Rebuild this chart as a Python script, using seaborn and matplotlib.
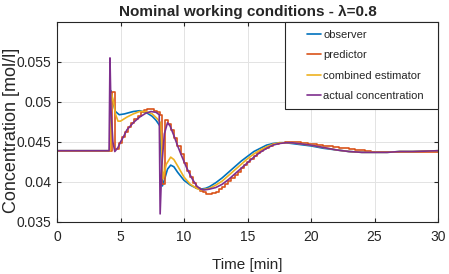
import matplotlib
matplotlib.use("Agg")
import matplotlib.pyplot as plt
from matplotlib.legend_handler import HandlerLine2D
from matplotlib.lines import Line2D
import seaborn as sns
import pandas as pd

# observer estimate (smooth)
obs_t = [0, 4.15, 4.25, 4.4, 4.6, 4.9, 5.3, 6.0, 6.5, 7.0, 7.5, 7.8, 8.1, 8.3, 8.5, 8.7,
         8.95, 9.2, 9.5, 10.0, 10.5, 11.0, 11.3, 11.7, 12.0, 12.5, 13.0, 13.5, 14.0, 14.5,
         15.0, 15.5, 16.0, 16.5, 17.0, 17.5, 18.0, 18.5, 19.0, 20.0, 21.0, 22.0, 23.0,
         24.0, 25.0, 26.0, 27.0, 28.0, 30.0]
obs_c = [0.0439, 0.0439, 0.0514, 0.0500, 0.0488, 0.0484, 0.0485, 0.0488, 0.0489, 0.0487,
         0.0482, 0.0477, 0.0470, 0.0395, 0.0405, 0.0416, 0.0421, 0.0419, 0.0412, 0.0402,
         0.0396, 0.0392, 0.0391, 0.0392, 0.0394, 0.0399, 0.0405, 0.0412, 0.0419, 0.0426,
         0.0432, 0.0438, 0.0442, 0.0446, 0.0448, 0.0449, 0.0449, 0.0448, 0.0447, 0.0445,
         0.0442, 0.0440, 0.0438, 0.0437, 0.0437, 0.0437, 0.0438, 0.0438, 0.0439]

# predictor (sampled, held between samples)
pred_t = [0, 4.35, 4.6, 4.85, 5.1, 5.35, 5.6, 5.85, 6.1, 6.35, 6.6, 6.85, 7.1, 7.35, 7.6,
          7.85, 8.1, 8.23, 8.48, 8.73, 8.98, 9.23, 9.48, 9.73, 9.98, 10.23, 10.48, 10.73,
          10.98, 11.23, 11.48, 11.73, 11.98, 12.23, 12.48, 12.73, 12.98, 13.23, 13.48,
          13.73, 13.98, 14.23, 14.48, 14.73, 14.98, 15.23, 15.48, 15.73, 15.98, 16.23,
          16.48, 16.73, 16.98, 17.23, 17.48, 17.73, 17.98, 18.23, 18.48, 18.73, 18.98,
          19.23, 19.48, 19.73, 19.98, 20.23, 20.48, 20.73, 20.98, 21.23, 21.48, 21.73,
          21.98, 22.23, 22.48, 22.73, 22.98, 23.23, 23.48, 23.73, 23.98, 24.23, 24.48,
          24.73, 24.98, 26.0, 27.0, 28.0, 30.0]
pred_c = [0.0439, 0.0513, 0.0441, 0.0449, 0.0456, 0.0463, 0.0469, 0.0474, 0.0479, 0.0483,
          0.0487, 0.0490, 0.0491, 0.0491, 0.0489, 0.0487, 0.0484, 0.0397, 0.0478, 0.0472,
          0.0465, 0.0455, 0.0445, 0.0435, 0.0424, 0.0414, 0.0406, 0.0399, 0.0393, 0.0389,
          0.0387, 0.0385, 0.0385, 0.0386, 0.0388, 0.0391, 0.0394, 0.0398, 0.0401, 0.0405,
          0.0409, 0.0413, 0.0417, 0.0421, 0.0425, 0.0429, 0.0432, 0.0436, 0.0439, 0.0441,
          0.0443, 0.0445, 0.0447, 0.0448, 0.04485, 0.0449, 0.04495, 0.0450, 0.0450,
          0.0450, 0.04495, 0.0449, 0.04485, 0.0448, 0.04475, 0.0447, 0.04465, 0.0446,
          0.04455, 0.0445, 0.04445, 0.0444, 0.04435, 0.0443, 0.04425, 0.0442, 0.04415,
          0.0441, 0.04405, 0.0440, 0.04395, 0.0439, 0.04385, 0.0438, 0.04375, 0.0437,
          0.0437, 0.0438, 0.0439]

# combined estimator
comb_t = [0, 4.2, 4.3, 4.45, 4.6, 4.8, 5.0, 5.5, 6.0, 6.5, 7.0, 7.5, 7.9, 8.15, 8.35, 8.6,
          8.95, 9.2, 9.5, 10.0, 10.5, 11.0, 11.3, 11.7, 12.0, 12.5, 13.0, 13.5, 14.0,
          14.5, 15.0, 15.5, 16.0, 16.5, 17.0, 17.5, 18.0, 18.5, 19.0, 20.0, 21.0, 22.0,
          23.0, 24.0, 25.0, 26.0, 27.0, 28.0, 30.0]
comb_c = [0.0439, 0.0439, 0.0510, 0.0500, 0.0485, 0.0476, 0.0476, 0.0481, 0.0485, 0.0488,
          0.0488, 0.0485, 0.0479, 0.0474, 0.0404, 0.0422, 0.0431, 0.0428, 0.0420, 0.0406,
          0.0397, 0.0392, 0.0390, 0.0391, 0.0392, 0.0396, 0.0401, 0.0408, 0.0415, 0.0422,
          0.0429, 0.0435, 0.0440, 0.0444, 0.0447, 0.0449, 0.0449, 0.0449, 0.0448, 0.0446,
          0.0443, 0.0440, 0.0438, 0.0437, 0.0437, 0.0437, 0.0438, 0.0438, 0.0439]

# actual concentration
act_t = [0, 4.1, 4.17, 4.25, 4.4, 4.55, 4.8, 5.0, 5.25, 5.5, 6.0, 6.5, 7.0, 7.4, 7.8, 8.05,
         8.12, 8.25, 8.45, 8.7, 8.9, 9.2, 9.5, 9.8, 10.2, 10.6, 11.0, 11.3, 11.6, 12.0,
         12.5, 13.0, 13.5, 14.0, 14.5, 15.0, 15.5, 16.0, 16.5, 17.0, 17.5, 18.0, 18.5,
         19.0, 20.0, 21.0, 22.0, 23.0, 24.0, 25.0, 26.0, 27.0, 28.0, 30.0]
act_c = [0.0439, 0.0439, 0.0555, 0.0490, 0.0450, 0.0438, 0.0443, 0.0450, 0.0457, 0.0465,
         0.0474, 0.0481, 0.0486, 0.0488, 0.0487, 0.0484, 0.0360, 0.0420, 0.0460, 0.0474,
         0.0470, 0.0458, 0.0445, 0.0433, 0.0418, 0.0405, 0.0395, 0.0391, 0.0390, 0.0391,
         0.0393, 0.0397, 0.0403, 0.0410, 0.0417, 0.0424, 0.0431, 0.0437, 0.0442, 0.0446,
         0.0448, 0.0449, 0.0449, 0.0448, 0.0446, 0.0443, 0.0440, 0.0438, 0.0437, 0.0437,
         0.0437, 0.0438, 0.0438, 0.0439]

series_names = ["observer", "predictor", "combined estimator", "actual concentration"]
colors = ["#0072BD", "#D95319", "#EDB120", "#7E2F8E"]
x_ticks = [0, 5, 10, 15, 20, 25, 30]
y_ticks = [0.035, 0.04, 0.045, 0.05, 0.055]
y_tick_labels = ["0.035", "0.04", "0.045", "0.05", "0.055"]

sns.set_theme(style="whitegrid")
plt.rcParams["font.family"] = ["Liberation Sans", "DejaVu Sans"]

fig = plt.figure(figsize=(4.49, 2.74), dpi=100)
ax = fig.add_axes([0.127, 0.19, 0.8485, 0.73])

frames = [
    pd.DataFrame({"t": obs_t, "c": obs_c}),
    pd.DataFrame({"t": pred_t, "c": pred_c}),
    pd.DataFrame({"t": comb_t, "c": comb_c}),
    pd.DataFrame({"t": act_t, "c": act_c}),
]
for df, name, col in zip(frames, series_names, colors):
    kw = {"drawstyle": "steps-post"} if name == "predictor" else {}
    sns.lineplot(data=df, x="t", y="c", ax=ax, color=col, lw=1.2, label=name,
                 estimator=None, **kw)

ax.set_xlim(0, 30)
ax.set_ylim(0.035, 0.06)
ax.set_xticks(x_ticks)
ax.set_xticklabels([str(v) for v in x_ticks])
ax.set_yticks(y_ticks)
ax.set_yticklabels(y_tick_labels)
ax.set_facecolor("white")
ax.grid(True, color="#e3e3e3", lw=0.7)
for s in ax.spines.values():
    s.set_color("#262626")
    s.set_linewidth(0.8)
ax.tick_params(direction="in", length=3, width=0.8, color="#262626", top=True,
               right=True, bottom=True, left=True, labelsize=10, labelcolor="#262626")
ax.tick_params(axis="x", pad=6)
ax.tick_params(axis="y", pad=4)

ax.set_title("Nominal working conditions - λ=0.8", fontsize=11, fontweight="bold", pad=4)
ax.set_xlabel("Time [min]", fontsize=11, color="#262626", labelpad=10)
ax.set_ylabel("Concentration [mol/l]", fontsize=13, color="#262626")
ax.yaxis.set_label_coords(-0.097, 0.46)

handles = [Line2D([], [], color=c, lw=1.2) for c in colors]
leg = ax.legend(handles, series_names, loc="upper right",
                bbox_to_anchor=(0.598, 0.0, 0.402, 1.0), mode="expand",
                borderaxespad=0, fontsize=8, frameon=True, fancybox=False,
                handlelength=2.56, handletextpad=0.2, labelspacing=0.95, borderpad=0.7,
                handler_map={Line2D: HandlerLine2D(xpad=1.3)})
leg.get_frame().set_edgecolor("#262626")
leg.get_frame().set_linewidth(0.8)
leg.get_frame().set_alpha(1)

fig.savefig("out.png", dpi=100)
